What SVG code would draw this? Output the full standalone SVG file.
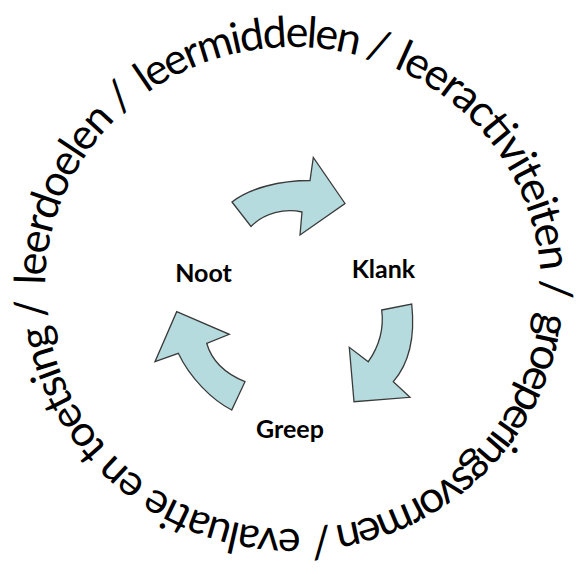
<svg xmlns="http://www.w3.org/2000/svg" width="578" height="578" viewBox="0 0 578 578">
  <defs>
    <style>
      .ring { font-family: Lato, "Open Sans", "Liberation Sans", sans-serif; font-size: 43px; fill: #000; }
      .ring.big { font-size: 44px; }
      .label { font-family: Lato, "Open Sans", "Liberation Sans", sans-serif; font-size: 25px; font-weight: bold; fill: #000; text-anchor: middle; }
      .arrow { fill: #b6dbdf; stroke: #3a3a3a; stroke-width: 1.3; stroke-linejoin: miter; }
    </style>
    <path id="ringPath" d="M 45,288 A 248,241 0 0 1 541,288 A 248,241 0 0 1 45,288"/>
  </defs>
  <rect width="578" height="578" fill="#fff"/>
  <g id="ring-text">
    <text class="ring"><textPath href="#ringPath" startOffset="3" textLength="212" lengthAdjust="spacing">leerdoelen /</textPath></text>
    <text class="ring"><textPath href="#ringPath" startOffset="228" textLength="248" lengthAdjust="spacing">leermiddelen /</textPath></text>
    <text class="ring big"><textPath href="#ringPath" startOffset="487" textLength="292" lengthAdjust="spacing">leeractiviteiten /</textPath></text>
    <text class="ring big"><textPath href="#ringPath" startOffset="792" textLength="343" lengthAdjust="spacing">groeperingsvormen /</textPath></text>
    <text class="ring"><textPath href="#ringPath" startOffset="1144" textLength="382" lengthAdjust="spacing">evaluatie en toetsing /</textPath></text>
  </g>
  <g id="connectors">
    <path id="arrow-top" class="arrow" d="M 232,202 C 250,188 280,180.5 310,180.5 L 313.3,157.5 L 345,203.5 L 300,235 L 302,212 C 285,208 264,213 251,226.5 Z"/>
    <path id="arrow-right" class="arrow" d="M 381.7,310 L 411.7,304 C 414.5,330 412,360 393.3,381.7 L 410,397.3 L 354,401.7 L 349.3,347.3 L 368.3,361.7 C 380,345 384,328 381.7,310 Z"/>
    <path id="arrow-left" class="arrow" d="M 176.7,311.7 L 229.3,334.3 L 206.7,343.3 C 212,362 226,374 245,381.7 L 231.7,410 C 212,400 190,378 178.3,353.3 L 155,361.7 Z"/>
  </g>
  <g id="node-noot"><text class="label" x="203.5" y="281.7">Noot</text></g>
  <g id="node-klank"><text class="label" x="383.5" y="278.3">Klank</text></g>
  <g id="node-greep"><text class="label" x="290" y="438.3">Greep</text></g>
</svg>
